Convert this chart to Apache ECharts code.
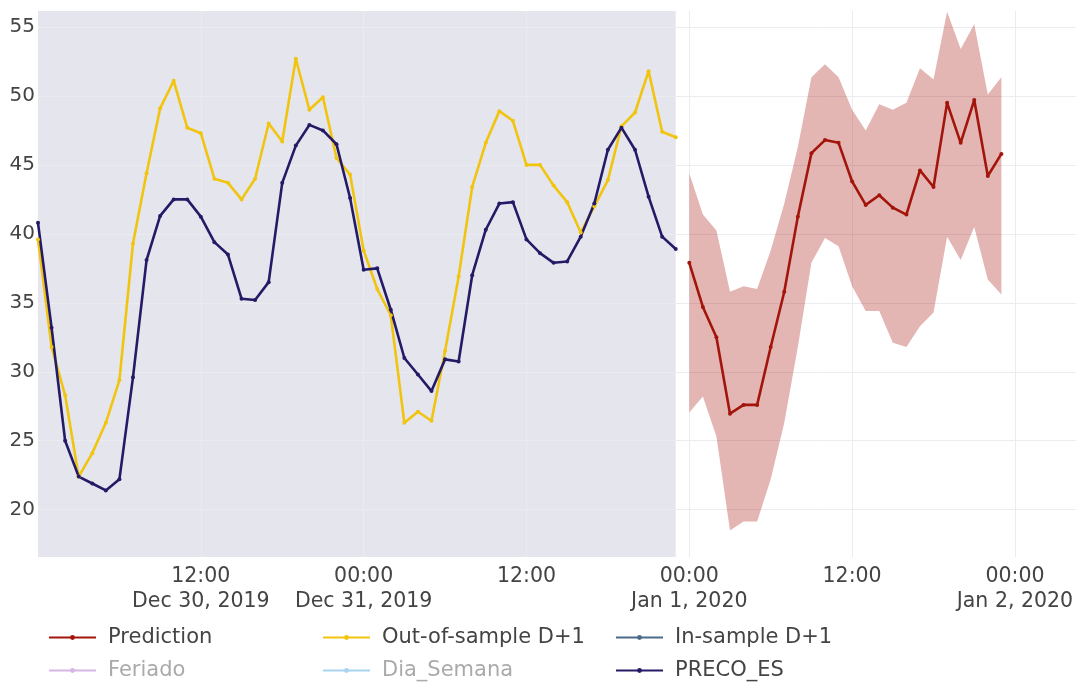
<!DOCTYPE html>
<html>
<head>
<meta charset="utf-8">
<script src="https://cdn.jsdelivr.net/npm/echarts@6/dist/echarts.min.js"></script>
<style>html,body{margin:0;padding:0;background:#fff}#c{width:1079px;height:682px}</style>
</head>
<body>
<div id="c"></div>
<script>
// Hours counted from Dec 30, 2019 00:00
const historyHours = Array.from({length: 48}, (_, i) => i);        // Dec 30 00:00 .. Dec 31 23:00
const predictionHours = Array.from({length: 24}, (_, i) => 48 + i); // Jan 1 00:00 .. Jan 1 23:00

const outOfSample = [39.6, 31.8, 28.3, 22.4, 24.1, 26.3, 29.4, 39.3, 44.4, 49.1, 51.1, 47.7,
  47.3, 44.0, 43.7, 42.5, 44.0, 48.0, 46.7, 52.7, 49.0, 49.9, 45.5, 44.3,
  38.8, 36.0, 34.1, 26.3, 27.1, 26.45, 31.5, 36.9, 43.4, 46.6, 48.9, 48.2,
  45.0, 45.0, 43.5, 42.3, 40.1, 42.0, 43.9, 47.8, 48.8, 51.8, 47.4, 47.0];

const precoES = [40.8, 33.2, 25.0, 22.4, 21.9, 21.4, 22.2, 29.6, 38.1, 41.3, 42.5, 42.5,
  41.25, 39.4, 38.5, 35.3, 35.2, 36.5, 43.7, 46.4, 47.9, 47.5, 46.5, 42.6,
  37.4, 37.5, 34.5, 31.0, 29.8, 28.6, 30.9, 30.75, 37.0, 40.3, 42.2, 42.3,
  39.6, 38.6, 37.9, 38.0, 39.8, 42.2, 46.1, 47.7, 46.1, 42.7, 39.8, 38.9];

const prediction = [37.9, 34.7, 32.5, 26.96, 27.6, 27.6, 31.8, 35.8, 41.25, 45.85, 46.8, 46.6,
  43.8, 42.1, 42.8, 41.9, 41.4, 44.6, 43.4, 49.5, 46.6, 49.7, 44.2, 45.8];

const predUpper = [44.4, 41.4, 40.25, 35.8, 36.2, 36.0, 38.8, 42.2, 46.3, 51.35, 52.3, 51.35,
  49.0, 47.5, 49.4, 49.0, 49.5, 52.0, 51.2, 56.1, 53.4, 55.2, 50.1, 51.35];

const predLower = [27.05, 28.2, 25.3, 18.5, 19.15, 19.15, 22.2, 26.3, 31.8, 37.9, 39.7, 39.1,
  36.2, 34.4, 34.4, 32.1, 31.8, 33.3, 34.3, 39.8, 38.1, 40.5, 36.7, 35.6];

const inSample = [];
const feriado = [];
const diaSemana = [];

const shadeRange = [0, 47]; // in-sample period

const xTickValues = [12, 24, 36, 48, 60, 72];
const xTickLabels = ['12:00\nDec 30, 2019', '00:00\nDec 31, 2019', '12:00', '00:00\nJan 1, 2020', '12:00', '00:00\nJan 2, 2020'];
const yTickValues = [20, 25, 30, 35, 40, 45, 50, 55];

const FONT = 'DejaVu Sans';
const pair = (xs, ys) => ys.map((v, i) => [xs[i], v]);

const chart = echarts.init(document.getElementById('c'), null, {renderer: 'canvas'});

const lineSeries = (name, xs, ys, color, extra) => Object.assign({
  name, type: 'line', data: pair(xs, ys),
  symbol: 'circle', symbolSize: 4, showSymbol: true, showAllSymbol: true,
  lineStyle: {color, width: 2.6}, itemStyle: {color},
  emphasis: {disabled: true}, z: 3
}, extra || {});

const legendBase = {
  orient: 'vertical', top: 627, height: 80, width: 300, itemWidth: 47, itemHeight: 6, itemGap: 12,
  padding: 0, selectedMode: false,
  textStyle: {fontFamily: FONT, fontSize: 21, color: '#444', lineHeight: 20, padding: [0, 0, 0, 7]}
};

const bandData = predictionHours.map((h, i) => [h, predUpper[i], predLower[i]]);

chart.setOption({
  animation: false,
  backgroundColor: '#fff',
  grid: {left: 38, right: 3, top: 11, bottom: 125, containLabel: false},
  xAxis: {
    type: 'value', min: 0, max: 76.5, interval: 12,
    axisLine: {show: false}, axisTick: {show: false},
    splitLine: {show: true, showMinLine: false, showMaxLine: false, lineStyle: {color: '#ececf0', width: 1}},
    axisLabel: {
      fontFamily: FONT, fontSize: 20.5, color: '#444', lineHeight: 25, margin: 7,
      showMinLabel: true, showMaxLabel: true,
      formatter: v => { const i = xTickValues.indexOf(v); return i >= 0 ? xTickLabels[i] : ''; }
    }
  },
  yAxis: {
    type: 'value', min: 16.57, max: 56.16, minInterval: 5, maxInterval: 5,
    axisLine: {show: false}, axisTick: {show: false},
    splitLine: {show: true, showMinLine: false, showMaxLine: false, lineStyle: {color: '#ececf0', width: 1}},
    axisLabel: {
      fontFamily: FONT, fontSize: 20, color: '#444', margin: 3,
      formatter: v => yTickValues.indexOf(Math.round(v * 1000) / 1000) >= 0 ? String(v) : ''
    }
  },
  legend: [
    Object.assign({}, legendBase, {left: 48, data: ['Prediction', {name: 'Feriado', textStyle: {color: '#aaa'}}]}),
    Object.assign({}, legendBase, {left: 322, data: ['Out-of-sample D+1', {name: 'Dia_Semana', textStyle: {color: '#aaa'}}]}),
    Object.assign({}, legendBase, {left: 615, data: ['In-sample D+1', 'PRECO_ES']})
  ],
  series: [
    {
      name: 'band', type: 'custom', data: bandData, z: 1, silent: true, clip: true,
      encode: {x: 0, y: [1, 2]},
      renderItem: (params, api) => {
        if (params.dataIndex !== 0) return null;
        const top = bandData.map(d => api.coord([d[0], d[1]]));
        const bot = bandData.map(d => api.coord([d[0], d[2]])).reverse();
        return {
          type: 'polygon',
          shape: {points: top.concat(bot)},
          style: {fill: 'rgba(170,30,25,0.33)', stroke: null}
        };
      }
    },
    lineSeries('Prediction', predictionHours, prediction, '#a3150b'),
    lineSeries('Out-of-sample D+1', historyHours, outOfSample, '#f1c40f'),
    lineSeries('In-sample D+1', historyHours, inSample, '#4b6a88'),
    lineSeries('Feriado', historyHours, feriado, '#d6b6e4'),
    lineSeries('Dia_Semana', historyHours, diaSemana, '#a9d4f0'),
    lineSeries('PRECO_ES', historyHours, precoES, '#241a66', {
      markArea: {
        silent: true, z: -1,
        itemStyle: {color: '#e5e5ee'},
        data: [[{xAxis: shadeRange[0]}, {xAxis: shadeRange[1]}]]
      }
    })
  ]
});
</script>
</body>
</html>
